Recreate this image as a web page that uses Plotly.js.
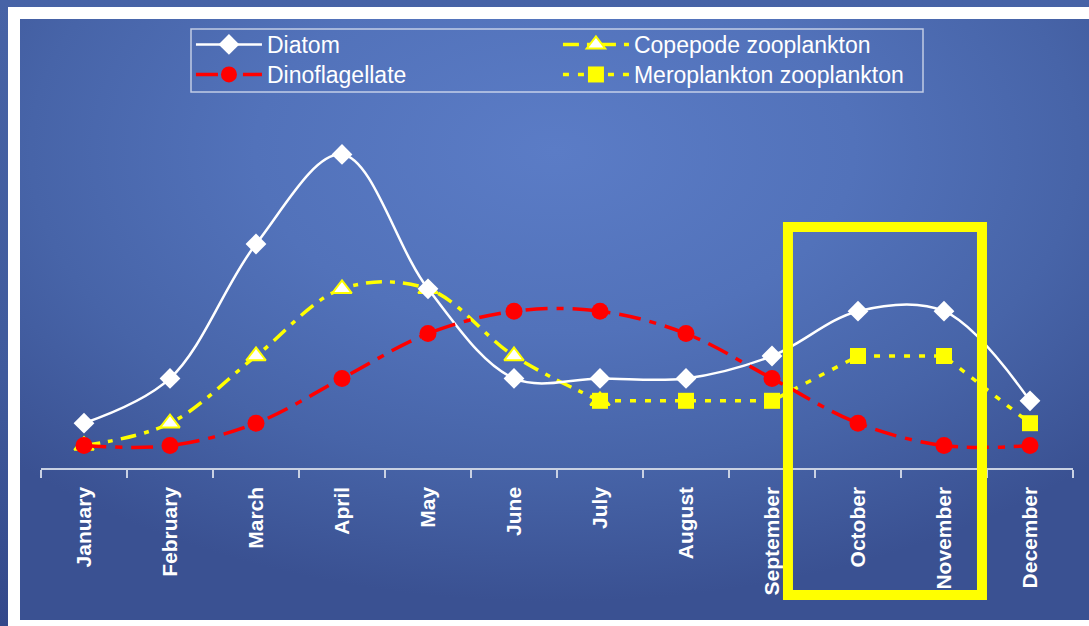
<!DOCTYPE html>
<html>
<head>
<meta charset="utf-8">
<script src="https://cdn.plot.ly/plotly-3.0.1.min.js"></script>
<style>
  html, body { margin: 0; padding: 0; width: 1089px; height: 626px; overflow: hidden; }
  body { background: linear-gradient(180deg, #4763a6 0%, #3f5a9c 60%, #33488a 100%); position: relative; }
  #frame { position: absolute; left: 8px; top: 7px; width: 1081px; height: 619px; background: #ffffff; }
  #panel { position: absolute; left: 20px; top: 19px; width: 1069px; height: 601px;
    background: radial-gradient(ellipse 70% 75% at 50% 22%, #5b7cc6 0%, #5272ba 40%, #4764a8 70%, #3a5192 100%); }
  #chart { position: absolute; left: 0; top: 0; width: 1089px; height: 626px; }
</style>
</head>
<body>
<div id="frame"></div>
<div id="panel"></div>
<div id="chart"></div>
<script>
const months = ["January","February","March","April","May","June","July","August","September","October","November","December"];
const diatom       = [2, 4, 10, 14, 8, 4, 4, 4, 5, 7, 7, 3];
const dinoflag     = [1, 1, 2, 4, 6, 7, 7, 6, 4, 2, 1, 1];
const copepode     = [1, 2, 5, 8, 8, 5, 3, null, null, null, null, null];
const meroplankton = [null, null, null, null, null, null, 3, 3, 3, 5, 5, 2];

const traces = [
  { name: "Copepode zooplankton", x: months, y: copepode, type: "scatter", mode: "lines+markers",
    line: { color: "#ffff00", width: 3.5, dash: "16px,8px,5px,8px", shape: "spline" },
    marker: { symbol: "triangle-up", size: 17, color: "#ffffff", line: { color: "#ffff00", width: 2 } },
    legend: "legend", legendrank: 2 },
  { name: "Meroplankton zooplankton", x: months, y: meroplankton, type: "scatter", mode: "lines+markers",
    line: { color: "#ffff00", width: 3.5, dash: "6px,9px", shape: "linear" },
    marker: { symbol: "square", size: 16, color: "#ffff00" },
    legend: "legend2", legendrank: 2 },
  { name: "Diatom", x: months, y: diatom, type: "scatter", mode: "lines+markers",
    line: { color: "#ffffff", width: 2.5, shape: "spline" },
    marker: { symbol: "diamond", size: 16, color: "#ffffff" },
    legend: "legend", legendrank: 1 },
  { name: "Dinoflagellate", x: months, y: dinoflag, type: "scatter", mode: "lines+markers",
    line: { color: "#ff0000", width: 3.5, dash: "22px,9px,7px,9px", shape: "spline" },
    marker: { symbol: "circle", size: 17, color: "#ff0000" },
    legend: "legend2", legendrank: 1 }
];

const legendBase = {
  orientation: "h", x: 0.1453, xanchor: "left", yanchor: "top",
  entrywidth: 286, entrywidthmode: "pixels",
  bgcolor: "rgba(0,0,0,0)", borderwidth: 0,
  font: { size: 23, color: "#ffffff", family: "Liberation Sans, Arial, sans-serif" },
  itemwidth: 66, tracegroupgap: 0
};

const layout = {
  width: 1089, height: 626,
  margin: { l: 41, r: 16, t: 20, b: 158 },
  paper_bgcolor: "rgba(0,0,0,0)",
  plot_bgcolor: "rgba(0,0,0,0)",
  font: { family: "Liberation Sans, Arial, sans-serif", color: "#ffffff" },
  showlegend: true,
  legend: Object.assign({}, legendBase, { y: 0.9933 }),
  legend2: Object.assign({}, legendBase, { y: 0.9263 }),
  xaxis: {
    type: "category", categoryorder: "array", categoryarray: months,
    range: [-0.5, 11.5], showgrid: false, zeroline: false,
    showline: true, linecolor: "#c9d1e3", linewidth: 1.5,
    ticks: "outside", tickson: "boundaries", ticklen: 8, tickcolor: "#c9d1e3", tickwidth: 1.5,
    ticklabelstandoff: 9,
    tickangle: -90, tickfont: { size: 21, color: "#ffffff", family: "Liberation Sans, Arial, sans-serif", weight: "bold" },
    fixedrange: true
  },
  yaxis: { range: [0, 20], visible: false, fixedrange: true },
  shapes: [
    { type: "rect", xref: "paper", yref: "paper", x0: (191-41)/1032, x1: (923-41)/1032, y0: (468-92)/448, y1: (468-29)/448,
      line: { color: "rgba(255,255,255,0.65)", width: 1.5 }, fillcolor: "rgba(0,0,0,0)", layer: "above" },
    { type: "rect", xref: "paper", yref: "paper", x0: 0.7238, x1: 0.9118, y0: -0.2835, y1: 0.5379,
      line: { color: "#ffff00", width: 10 }, fillcolor: "rgba(0,0,0,0)", layer: "above" }
  ]
};

Plotly.newPlot("chart", traces, layout, { staticPlot: true, displayModeBar: false });
</script>
</body>
</html>
